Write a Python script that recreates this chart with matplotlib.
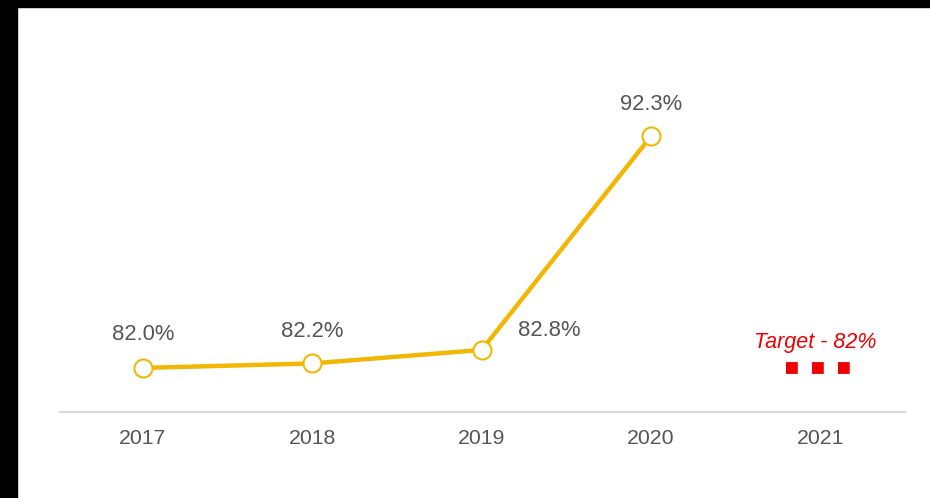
import matplotlib
matplotlib.use("Agg")
import matplotlib.pyplot as plt
from matplotlib.patches import Rectangle

years = ["2017", "2018", "2019", "2020", "2021"]
values = [82.0, 82.2, 82.8, 92.3]
value_labels = ["82.0%", "82.2%", "82.8%", "92.3%"]
target_value = 82.0
target_label = "Target - 82%"

plt.rcParams['font.family'] = ['Liberation Sans', 'DejaVu Sans']

W, H = 930, 498
fig = plt.figure(figsize=(W / 100, H / 100), dpi=100)
fig.patch.set_facecolor('white')

# black frame at left and top
fig.add_artist(Rectangle((0, 0), 17 / W, 1, transform=fig.transFigure, color='black', zorder=10))
fig.add_artist(Rectangle((0, 1 - 7 / H), 1, 7 / H, transform=fig.transFigure, color='black', zorder=10))

ax_left, ax_right = 60 / W, 905 / W
ax_bottom, ax_top = 1 - 412 / H, 1 - 40 / H
ax = fig.add_axes([ax_left, ax_bottom, ax_right - ax_left, ax_top - ax_bottom])
ax.set_xlim(-0.49, 4.5)
ax.set_ylim(80.04, 96.58)

xs = list(range(len(values)))
gold = '#F2B705'
ax.plot(xs, values, color=gold, linewidth=3.2, solid_capstyle='round', zorder=3)
ax.plot(xs, values, linestyle='none', marker='o', markersize=13,
        markerfacecolor='white', markeredgecolor=gold, markeredgewidth=1.5, zorder=4)

offsets = [(0, 24), (0, 23), (49, 14), (0, 23)]
for x, v, lab, (dx, dy) in zip(xs, values, value_labels, offsets):
    ax.annotate(lab, (x, v), xytext=(dx, dy), textcoords='offset points',
                ha='center', va='center', fontsize=15.8, color='#555555')

# target marker at 2021
tx = years.index("2021")
ax.plot([tx - 0.20, tx + 0.183], [target_value, target_value], color='#EE0000',
        linewidth=8.5, dashes=(1, 1.2), dash_capstyle='butt', solid_capstyle='butt', zorder=3)
ax.annotate(target_label, (tx - 0.03, target_value), xytext=(0, 18.5), textcoords='offset points',
            ha='center', va='center', fontsize=15.5, color='#EE0000', style='italic')

ax.set_xticks(range(len(years)))
ax.set_xticklabels(years, fontsize=15.3, color='#555555')
ax.tick_params(axis='x', length=0, pad=12.5)
ax.set_yticks([])
for s in ['top', 'right', 'left']:
    ax.spines[s].set_visible(False)
ax.spines['bottom'].set_color('#D9D9D9')
ax.spines['bottom'].set_linewidth(1.5)
ax.set_facecolor('none')

fig.savefig('out.png', dpi=100, facecolor='white')
